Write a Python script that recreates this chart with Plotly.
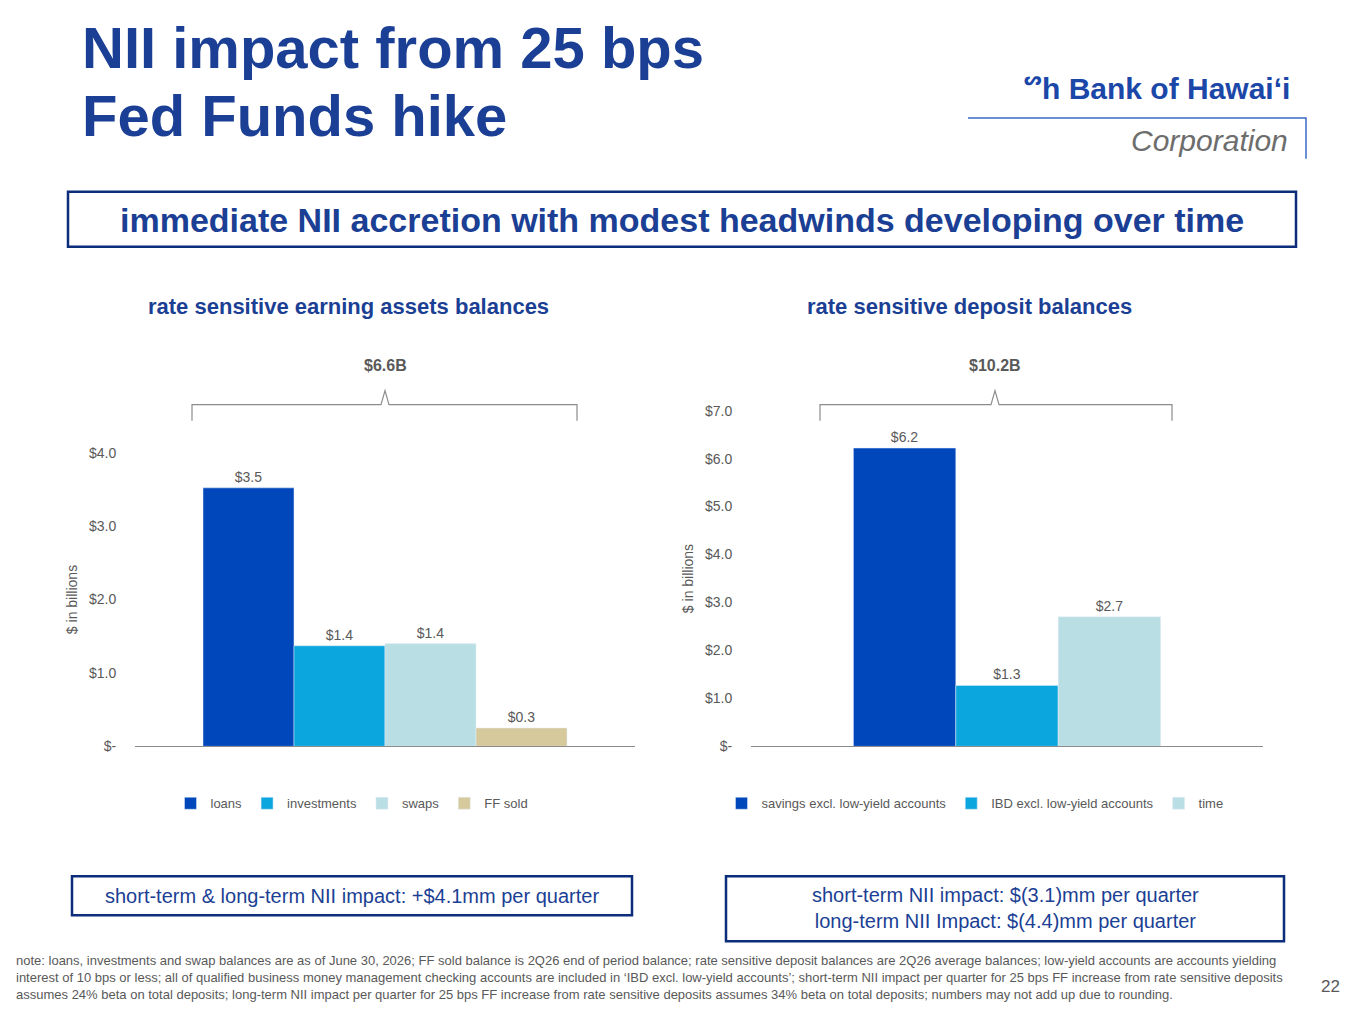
import plotly.graph_objects as go

# data
asset_labels = ["loans", "investments", "swaps", "FF sold"]
asset_values = [3.52, 1.37, 1.40, 0.25]
asset_text = ["$3.5", "$1.4", "$1.4", "$0.3"]
asset_colors = ["#0047BB", "#0CA6DF", "#B9DFE4", "#D6C99C"]

deposit_labels = ["savings excl. low-yield accounts", "IBD excl. low-yield accounts", "time"]
deposit_values = [6.22, 1.27, 2.70]
deposit_text = ["$6.2", "$1.3", "$2.7"]
deposit_colors = ["#0047BB", "#0CA6DF", "#B9DFE4"]

left_ticks = [0, 1, 2, 3, 4]
left_ticktext = ["$-", "$1.0", "$2.0", "$3.0", "$4.0"]
right_ticks = [0, 1, 2, 3, 4, 5, 6, 7]
right_ticktext = ["$-", "$1.0", "$2.0", "$3.0", "$4.0", "$5.0", "$6.0", "$7.0"]

# page body has an 8px margin, so the figure is drawn 16px smaller and offset
W, H = 1365 - 16, 1024 - 16
FONT = "Liberation Sans, Arial, sans-serif"
NAVY = "#1B3F94"
GREY = "#595959"

def px(x):
    return (x - 8) / W

def py(y):
    return 1 - ((y - 15) / 0.985) / H

fig = go.Figure()

wl = 0.182
for i, (lab, val, txt, col) in enumerate(zip(asset_labels, asset_values, asset_text, asset_colors)):
    fig.add_trace(go.Bar(x=[0], y=[val], name=lab, text=[txt], textposition="outside",
                         marker_color=col, xaxis="x", yaxis="y", legend="legend",
                         width=wl, offset=(i - 2) * wl,
                         textfont=dict(color=GREY, size=14), cliponaxis=False))
wr = 0.2
for i, (lab, val, txt, col) in enumerate(zip(deposit_labels, deposit_values, deposit_text, deposit_colors)):
    fig.add_trace(go.Bar(x=[0], y=[val], name=lab, text=[txt], textposition="outside",
                         marker_color=col, xaxis="x2", yaxis="y2", legend="legend2",
                         width=wr, offset=(i - 1.5) * wr,
                         textfont=dict(color=GREY, size=14), cliponaxis=False))

axis_common = dict(showgrid=False, zeroline=False)
yaxis_common = dict(ticks="outside", ticklen=15, tickcolor="rgba(0,0,0,0)",
                    tickfont=dict(size=14, color=GREY),
                    title=dict(text="$ in billions", font=dict(size=14, color=GREY), standoff=8),
                    **axis_common)
fig.update_layout(
    width=W, height=H, margin=dict(l=0, r=0, t=0, b=0),
    paper_bgcolor="white", plot_bgcolor="white",
    font=dict(family=FONT, color=GREY),
    barmode="overlay",
    xaxis=dict(domain=[px(135), px(635)], anchor="y", range=[-0.5, 0.5], showline=True,
               linecolor="#8c8c8c", ticks="", showticklabels=False, **axis_common),
    yaxis=dict(domain=[py(746), py(452)], range=[0, 4.0], tickvals=left_ticks,
               ticktext=left_ticktext, **yaxis_common),
    xaxis2=dict(domain=[px(751), px(1263)], anchor="y2", range=[-0.5, 0.5], showline=True,
                linecolor="#8c8c8c", ticks="", showticklabels=False, **axis_common),
    yaxis2=dict(domain=[py(746), py(410)], range=[0, 7.0], anchor="x2", tickvals=right_ticks,
                ticktext=right_ticktext, **yaxis_common),
    legend=dict(orientation="h", x=px(352), xanchor="center", y=py(803), yanchor="middle",
                font=dict(size=13, color=GREY), itemwidth=30, traceorder="normal"),
    legend2=dict(orientation="h", x=px(975), xanchor="center", y=py(803), yanchor="middle",
                 font=dict(size=13, color=GREY), itemwidth=30, traceorder="normal"),
)

shapes = []
# brackets over the charts
for x0, x1, xm in [(192, 577, 385), (820, 1172, 995)]:
    shapes.append(dict(type="path", xref="paper", yref="paper",
                       path=f"M {px(x0)} {py(420)} L {px(x0)} {py(404)} L {px(xm-4)} {py(404)} "
                            f"L {px(xm)} {py(390)} L {px(xm+4)} {py(404)} L {px(x1)} {py(404)} L {px(x1)} {py(420)}",
                       line=dict(color="#8c8c8c", width=1.2)))
# boxes
for x0, y0, x1, y1 in [(68, 191, 1296, 246), (72, 876, 632, 915), (726, 876, 1284, 941)]:
    shapes.append(dict(type="rect", xref="paper", yref="paper", x0=px(x0), x1=px(x1),
                       y0=py(y1), y1=py(y0), line=dict(color="#0B2D7A", width=2.5)))
# logo rule
shapes.append(dict(type="path", xref="paper", yref="paper",
                   path=f"M {px(968)} {py(117)} L {px(1306)} {py(117)} L {px(1306)} {py(158)}",
                   line=dict(color="#3B6CC9", width=1.5)))
fig.update_layout(shapes=shapes)

def note(x, y, text, size, color, bold=False, xanchor="left", yanchor="middle", align="left"):
    if bold:
        text = f"<b>{text}</b>"
    fig.add_annotation(x=px(x), y=py(y), xref="paper", yref="paper", text=text, showarrow=False,
                       xanchor=xanchor, yanchor=yanchor, align=align,
                       font=dict(family=FONT, size=size, color=color))

note(80, 47, "NII impact from 25 bps", 58, NAVY, bold=True)
note(80, 115, "Fed Funds hike", 58, NAVY, bold=True)
note(1292, 88, "<b>ᔥh Bank of Hawaiʻi</b>", 30, "#1B47A8", xanchor="right")
note(1290, 140, "<i>Corporation</i>", 30, "#6d6d6d", xanchor="right")
note(682, 219, "immediate NII accretion with modest headwinds developing over time", 34, NAVY,
     bold=True, xanchor="center")
note(348, 306, "rate sensitive earning assets balances", 22, NAVY, bold=True, xanchor="center")
note(969, 306, "rate sensitive deposit balances", 22, NAVY, bold=True, xanchor="center")
note(385, 365, "$6.6B", 16, GREY, bold=True, xanchor="center")
note(995, 365, "$10.2B", 16, GREY, bold=True, xanchor="center")
note(352, 896, "short-term &amp; long-term NII impact: +$4.1mm per quarter", 20, NAVY, xanchor="center")
note(1005, 908, "short-term NII impact: $(3.1)mm per quarter<br>long-term NII Impact: $(4.4)mm per quarter",
     20, NAVY, xanchor="center", align="center")
note(14, 977,
     "note: loans, investments and swap balances are as of June 30, 2026; FF sold balance is 2Q26 end of period balance; rate sensitive deposit balances are 2Q26 average balances; low-yield accounts are accounts yielding<br>"
     "interest of 10 bps or less; all of qualified business money management checking accounts are included in ‘IBD excl. low-yield accounts’; short-term NII impact per quarter for 25 bps FF increase from rate sensitive deposits<br>"
     "assumes 24% beta on total deposits; long-term NII impact per quarter for 25 bps FF increase from rate sensitive deposits assumes 34% beta on total deposits; numbers may not add up due to rounding.",
     13, GREY)
note(1342, 986, "22", 17, GREY, xanchor="right")

fig.write_html("out.html")
